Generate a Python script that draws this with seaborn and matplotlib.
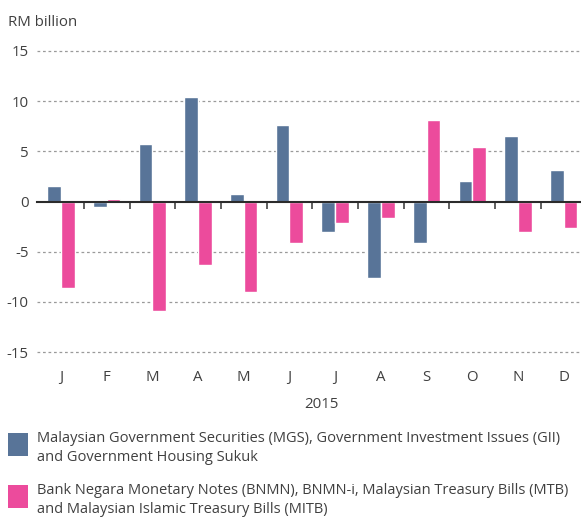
import pandas as pd
import matplotlib.pyplot as plt
import seaborn as sns
from matplotlib.patches import Rectangle

# data (RM billion, 2015)
months = ['J', 'F', 'M', 'A', 'M', 'J', 'J', 'A', 'S', 'O', 'N', 'D']
mgs = [1.5, -0.5, 5.7, 10.4, 0.7, 7.6, -3.0, -7.6, -4.1, 2.0, 6.5, 3.1]
bnmn = [-8.6, 0.2, -10.9, -6.3, -9.0, -4.1, -2.1, -1.6, 8.1, 5.4, -3.0, -2.6]
series_names = ['MGS', 'BNMN']
legend_labels = [
    'Malaysian Government Securities (MGS), Government Investment Issues (GII)\nand Government Housing Sukuk',
    'Bank Negara Monetary Notes (BNMN), BNMN-i, Malaysian Treasury Bills (MTB)\nand Malaysian Islamic Treasury Bills (MITB)',
]
colors = ['#587498', '#EC4B9C']

sns.set_theme(style='white')
plt.rcParams['font.family'] = ['Open Sans', 'DejaVu Sans']
text_col = '#404040'
fs = 10.8

# long table for seaborn
pos = list(range(len(months)))
df = pd.DataFrame({
    'pos': pos * 2,
    'series': [series_names[0]] * 12 + [series_names[1]] * 12,
    'value': mgs + bnmn,
})

fig = plt.figure(figsize=(5.81, 5.21), dpi=100)
ax = fig.add_axes([37 / 581, 1 - 352 / 521, 1 - 37 / 581, 301 / 521])

sns.barplot(data=df, x='pos', y='value', hue='series', palette=colors,
            width=0.6, saturation=1, legend=False, ax=ax, zorder=3,
            native_scale=True)

ax.set_ylim(-15, 15)
ax.set_xlim(-0.525, 11.38)
ax.set_yticks([-15, -10, -5, 0, 5, 10, 15])
ax.set_yticklabels(['-15', '-10', '-5', '0', '5', '10', '15'])
ax.tick_params(axis='y', length=0, pad=6, labelsize=fs, labelcolor=text_col)

for v in [-15, -10, -5, 5, 10, 15]:
    ax.axhline(v, color='#9a9a9a', lw=0.9, ls=(0, (2.2, 2.2)), zorder=1,
               clip_on=False)

for s in ['top', 'right', 'left']:
    ax.spines[s].set_visible(False)
ax.spines['bottom'].set_position(('data', 0))
ax.spines['bottom'].set_color('#2b2b2b')
ax.spines['bottom'].set_linewidth(1.5)
ax.spines['bottom'].set_zorder(4)

# separator ticks hanging from the zero line
ax.set_xticks([i + 0.5 for i in range(11)], minor=True)
ax.set_xticks(pos)
ax.set_xticklabels([])
ax.tick_params(axis='x', which='major', length=0)
ax.tick_params(axis='x', which='minor', length=5, width=1.2,
               color='#444444', direction='out', bottom=True)
ax.set_xlabel('')
ax.set_ylabel('')

# month labels at the bottom
sec = ax.secondary_xaxis('bottom')
sec.set_xticks(pos)
sec.set_xticklabels(months)
sec.tick_params(length=0, pad=13, labelsize=fs, labelcolor=text_col)
for s in sec.spines.values():
    s.set_visible(False)

fig.text(8 / 581, 1 - 22 / 521, 'RM billion', fontsize=fs, color=text_col,
         va='center', ha='left')
fig.text(321 / 581, 1 - 405 / 521, '2015', fontsize=fs, color=text_col,
         va='center', ha='center')

# legend
for i, (lab, col) in enumerate(zip(legend_labels, colors)):
    y0 = 433 + i * 52
    fig.patches.append(Rectangle((8 / 581, 1 - (y0 + 23) / 521), 20 / 581,
                                 23 / 521, transform=fig.transFigure,
                                 facecolor=col, edgecolor='none'))
    fig.text(37 / 581, 1 - (y0 - 2) / 521, lab, fontsize=10.5, color=text_col,
             va='top', ha='left', linespacing=1.4)

plt.savefig('out.png', dpi=100)
